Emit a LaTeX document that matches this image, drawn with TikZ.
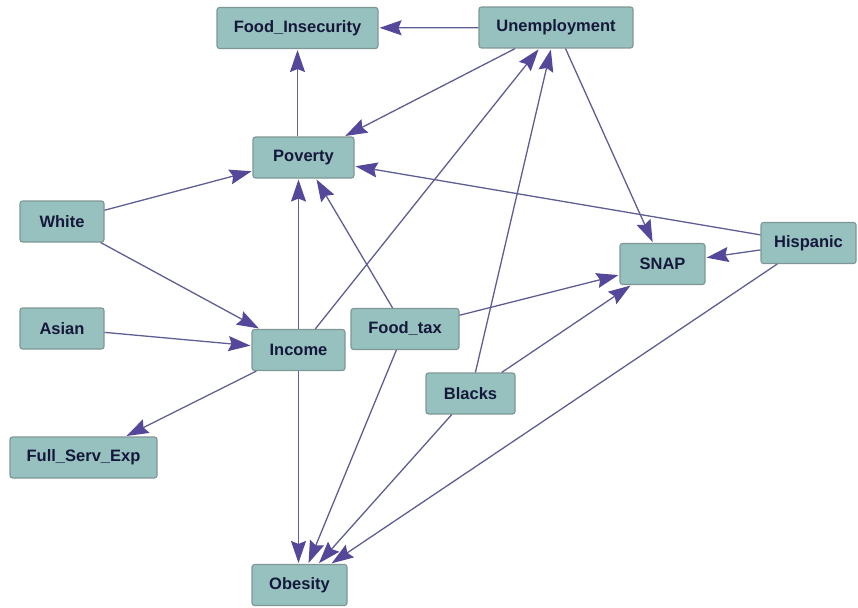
\documentclass[tikz,border=0pt]{standalone}
\usepackage{fontspec}
\setmainfont{Liberation Sans}
\usetikzlibrary{arrows.meta}
\definecolor{boxfill}{HTML}{97C1BF}
\definecolor{boxline}{HTML}{7F9694}
\definecolor{edgecol}{HTML}{5E5E94}
\definecolor{headcol}{HTML}{55489A}
\definecolor{txtcol}{HTML}{14183A}
\tikzset{
  var/.style={draw=boxline, line width=1.1pt, fill=boxfill, rounded corners=2.5pt,
    minimum height=41pt, inner sep=0pt, text=txtcol,
    font=\fontsize{16.5}{18}\selectfont\bfseries},
  dep/.style={draw=edgecol, line width=1.3pt, shorten >=1pt,
    -{Stealth[length=22pt,width=15pt,inset=3pt,fill=headcol,color=headcol]}}
}
\begin{document}
\begin{tikzpicture}[x=1pt,y=-1pt]
\useasboundingbox (0,0) rectangle (858,607);
\node[var, minimum width=161pt] (fi) at (297.5,28) {Food\_Insecurity};
\node[var, minimum width=154pt] (un) at (556,27.5) {Unemployment};
\node[var, minimum width=101pt] (po) at (303.5,157.5) {Poverty};
\node[var, minimum width=84pt] (wh) at (62,221.5) {White};
\node[var, minimum width=84pt] (as) at (62,328.5) {Asian};
\node[var, minimum width=85pt] (sn) at (662.5,264) {SNAP};
\node[var, minimum width=95pt] (hi) at (808.5,243) {Hispanic};
\node[var, minimum width=93pt] (in) at (298.5,350) {Income};
\node[var, minimum width=108pt] (ft) at (405,329) {Food\_tax};
\node[var, minimum width=89pt] (bl) at (470.5,393.5) {Blacks};
\node[var, minimum width=147pt] (fs) at (83.5,457.5) {Full\_Serv\_Exp};
\node[var, minimum width=95pt] (ob) at (299.5,585) {Obesity};

\draw[dep] (un) -- (fi);
\draw[dep] (po.north -| fi.south) -- (fi.south);
\draw[dep] (un) -- (po);
\draw[dep] (un) -- (sn);
\draw[dep] (wh) -- (po);
\draw[dep] (wh) -- (in);
\draw[dep] (as) -- (in);
\draw[dep] (in.north) -- (in.north |- po.south);
\draw[dep] (in) -- (un);
\draw[dep] (in) -- (fs);
\draw[dep] (in.south) -- (in.south |- ob.north);
\draw[dep] (ft) -- (po);
\draw[dep] (ft) -- (sn);
\draw[dep] (ft) -- (ob);
\draw[dep] (bl) -- (un);
\draw[dep] (bl) -- (sn);
\draw[dep] (bl) -- (ob);
\draw[dep] (hi) -- (po);
\draw[dep] (hi) -- (sn);
\draw[dep] (hi) -- (ob);
\end{tikzpicture}
\end{document}
